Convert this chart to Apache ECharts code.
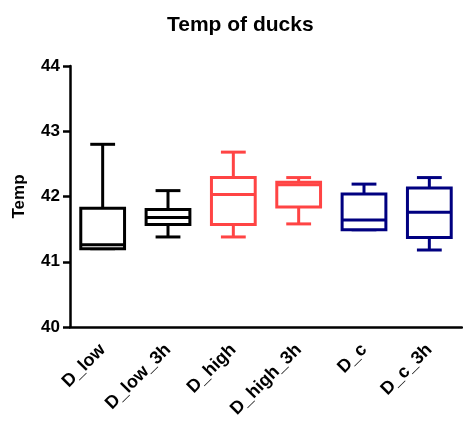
<!DOCTYPE html>
<html lang="en">
<head>
  <meta charset="UTF-8">
  <title>Temp of ducks</title>
  <script src="https://cdn.jsdelivr.net/npm/echarts@6/dist/echarts.min.js"></script>
  <style>body{margin:0;background:#fff}</style>
</head>
<body>
  <div id="main" style="width:463px;height:426px"></div>
  <script>
    var myChart = echarts.init(document.getElementById('main'))

    var groups = ['D_low', 'D_low_3h', 'D_high', 'D_high_3h', 'D_c', 'D_c_3h']
    // min, q1, median, q3, max
    var mins    = [41.2, 41.38, 41.38, 41.58, 41.49, 41.18]
    var q1s     = [41.2, 41.57, 41.57, 41.84, 41.49, 41.37]
    var medians = [41.26, 41.68, 42.03, 42.18, 41.64, 41.76]
    var q3s     = [41.82, 41.8, 42.29, 42.22, 42.04, 42.13]
    var maxs    = [42.8, 42.09, 42.68, 42.29, 42.19, 42.29]
    var colors  = ['#000000', '#000000', '#ff4444', '#ff4444', '#000080', '#000080']
    var yTicks  = [40, 41, 42, 43, 44]

    var boxData = []
    for (var i = 0; i < groups.length; i++) {
      boxData.push([i, mins[i], q1s[i], medians[i], q3s[i], maxs[i]])
    }

    function renderBox(params, api) {
      var idx = api.value(0)
      var band = api.size([1, 0])[0]
      var half = band * 0.335
      var capHalf = band * 0.19
      var pMin = api.coord([idx, api.value(1)])
      var pQ1 = api.coord([idx, api.value(2)])
      var pMed = api.coord([idx, api.value(3)])
      var pQ3 = api.coord([idx, api.value(4)])
      var pMax = api.coord([idx, api.value(5)])
      var x = pMin[0]
      var st = { stroke: colors[idx], lineWidth: 3, fill: null }
      return {
        type: 'group',
        children: [
          { type: 'line', shape: { x1: x, y1: pQ3[1], x2: x, y2: pMax[1] }, style: st },
          { type: 'line', shape: { x1: x, y1: pQ1[1], x2: x, y2: pMin[1] }, style: st },
          { type: 'line', shape: { x1: x - capHalf, y1: pMax[1], x2: x + capHalf, y2: pMax[1] }, style: st },
          { type: 'line', shape: { x1: x - capHalf, y1: pMin[1], x2: x + capHalf, y2: pMin[1] }, style: st },
          { type: 'rect', shape: { x: x - half, y: pQ3[1], width: half * 2, height: pQ1[1] - pQ3[1] }, style: { stroke: colors[idx], lineWidth: 3, fill: '#fff' } },
          { type: 'line', shape: { x1: x - half, y1: pMed[1], x2: x + half, y2: pMed[1] }, style: st }
        ]
      }
    }

    var options = {
      animation: false,
      title: {
        text: 'Temp of ducks',
        left: 162,
        top: 10,
        textStyle: { fontFamily: 'Liberation Sans', fontSize: 21, fontWeight: 'bold', color: '#000' }
      },
      grid: { left: 70, right: 1, top: 66, bottom: 99 },
      xAxis: {
        type: 'category',
        data: groups,
        axisLine: { lineStyle: { color: '#000', width: 2.5 } },
        axisTick: { alignWithLabel: true, length: 7, lineStyle: { color: '#000', width: 2.5 } },
        axisLabel: { rotate: 45, margin: 20, color: '#000', fontFamily: 'Liberation Sans', fontSize: 18, fontWeight: 'bold' },
        splitLine: { show: false }
      },
      yAxis: {
        type: 'value',
        min: yTicks[0],
        max: yTicks[yTicks.length - 1],
        interval: 1,
        name: 'Temp',
        nameLocation: 'middle',
        nameGap: 42,
        nameTextStyle: { color: '#000', fontFamily: 'Liberation Sans', fontSize: 17, fontWeight: 'bold' },
        axisLine: { show: true, lineStyle: { color: '#000', width: 2.5 } },
        axisTick: { show: true, length: 7, lineStyle: { color: '#000', width: 2.5 } },
        axisLabel: { margin: 10, color: '#000', fontFamily: 'Liberation Sans', fontSize: 17, fontWeight: 'bold' },
        splitLine: { show: false }
      },
      series: [{
        type: 'custom',
        renderItem: renderBox,
        data: boxData,
        encode: { x: 0, y: [1, 2, 3, 4, 5] }
      }]
    }

    myChart.setOption(options)
  </script>
</body>
</html>
